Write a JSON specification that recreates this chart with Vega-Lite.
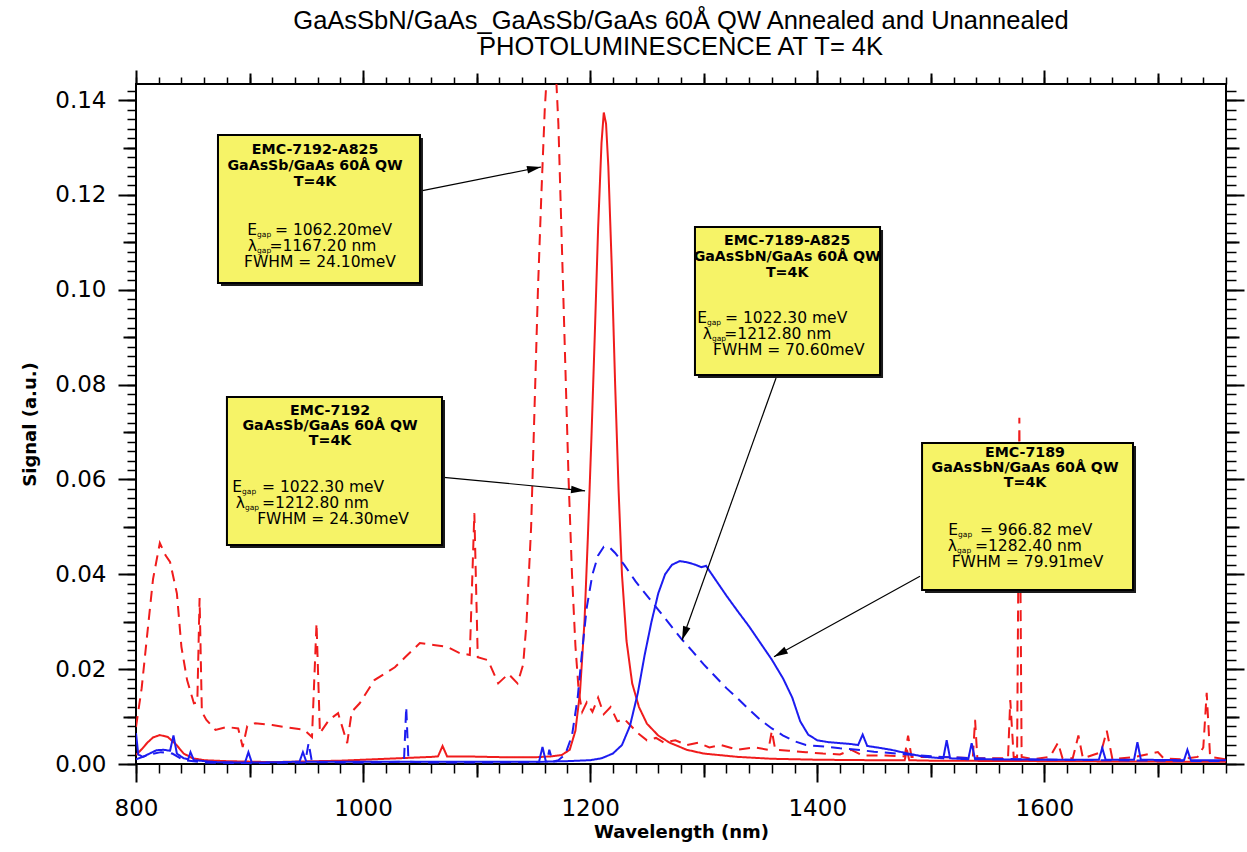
{
  "$schema": "https://vega.github.io/schema/vega-lite/v6.json",
  "width": 1090,
  "height": 680,
  "autosize": {"type": "none"},
  "padding": {"left": 136, "top": 84, "right": 21, "bottom": 88},
  "background": "white",
  "config": {
    "view": {"stroke": "black", "strokeWidth": 2},
    "font": "DejaVu Sans",
    "axis": {"grid": false, "domain": false, "tickColor": "black", "labelColor": "black", "titleColor": "black", "labelFlush": false, "labelOverlap": false}
  },
  "title": {
    "text": ["GaAsSbN/GaAs_GaAsSb/GaAs 60Å QW Annealed and Unannealed", "PHOTOLUMINESCENCE AT T= 4K"],
    "font": "Liberation Sans",
    "fontSize": 25.5,
    "fontWeight": "normal",
    "lineHeight": 26,
    "anchor": "middle",
    "frame": "group",
    "offset": 9,
    "color": "black"
  },
  "datasets": {
    "pl": [
      {"s":"EMC-7192","w":800,"v":0.0019},{"s":"EMC-7192","w":805,"v":0.0031},{"s":"EMC-7192","w":810,"v":0.0045},{"s":"EMC-7192","w":815,"v":0.0056},{"s":"EMC-7192","w":821,"v":0.0061},{"s":"EMC-7192","w":828,"v":0.0057},{"s":"EMC-7192","w":835,"v":0.0042},{"s":"EMC-7192","w":842,"v":0.0022},{"s":"EMC-7192","w":850,"v":0.0012},{"s":"EMC-7192","w":860,"v":0.0008},{"s":"EMC-7192","w":880,"v":0.0006},{"s":"EMC-7192","w":900,"v":0.0005},{"s":"EMC-7192","w":920,"v":0.0004},{"s":"EMC-7192","w":940,"v":0.0005},{"s":"EMC-7192","w":960,"v":0.0006},{"s":"EMC-7192","w":980,"v":0.0007},{"s":"EMC-7192","w":1000,"v":0.0009},{"s":"EMC-7192","w":1020,"v":0.0011},{"s":"EMC-7192","w":1040,"v":0.0013},{"s":"EMC-7192","w":1060,"v":0.0015},{"s":"EMC-7192","w":1066,"v":0.0016},{"s":"EMC-7192","w":1070,"v":0.0038},{"s":"EMC-7192","w":1074,"v":0.0016},{"s":"EMC-7192","w":1090,"v":0.0016},{"s":"EMC-7192","w":1110,"v":0.0015},{"s":"EMC-7192","w":1130,"v":0.0014},{"s":"EMC-7192","w":1150,"v":0.0014},{"s":"EMC-7192","w":1165,"v":0.0016},{"s":"EMC-7192","w":1175,"v":0.0019},{"s":"EMC-7192","w":1182,"v":0.003},{"s":"EMC-7192","w":1187,"v":0.007},{"s":"EMC-7192","w":1191,"v":0.015},{"s":"EMC-7192","w":1195,"v":0.03},{"s":"EMC-7192","w":1198,"v":0.048},{"s":"EMC-7192","w":1201,"v":0.068},{"s":"EMC-7192","w":1204,"v":0.09},{"s":"EMC-7192","w":1207,"v":0.113},{"s":"EMC-7192","w":1210,"v":0.131},{"s":"EMC-7192","w":1212,"v":0.1374},{"s":"EMC-7192","w":1214,"v":0.135},{"s":"EMC-7192","w":1216,"v":0.126},{"s":"EMC-7192","w":1219,"v":0.105},{"s":"EMC-7192","w":1222,"v":0.08},{"s":"EMC-7192","w":1225,"v":0.058},{"s":"EMC-7192","w":1228,"v":0.04},{"s":"EMC-7192","w":1232,"v":0.026},{"s":"EMC-7192","w":1237,"v":0.017},{"s":"EMC-7192","w":1243,"v":0.012},{"s":"EMC-7192","w":1250,"v":0.0085},{"s":"EMC-7192","w":1260,"v":0.006},{"s":"EMC-7192","w":1270,"v":0.0045},{"s":"EMC-7192","w":1285,"v":0.003},{"s":"EMC-7192","w":1300,"v":0.0022},{"s":"EMC-7192","w":1330,"v":0.0015},{"s":"EMC-7192","w":1360,"v":0.0011},{"s":"EMC-7192","w":1400,"v":0.0009},{"s":"EMC-7192","w":1450,"v":0.0008},{"s":"EMC-7192","w":1477,"v":0.0008},{"s":"EMC-7192","w":1479,"v":0.003},{"s":"EMC-7192","w":1481,"v":0.0008},{"s":"EMC-7192","w":1500,"v":0.0007},{"s":"EMC-7192","w":1600,"v":0.0006},{"s":"EMC-7192","w":1700,"v":0.0005},{"s":"EMC-7192","w":1760,"v":0.0005},

      {"s":"EMC-7192-A825","w":800,"v":0.0078},{"s":"EMC-7192-A825","w":805,"v":0.016},{"s":"EMC-7192-A825","w":810,"v":0.0276},{"s":"EMC-7192-A825","w":815,"v":0.039},{"s":"EMC-7192-A825","w":821,"v":0.0466},{"s":"EMC-7192-A825","w":826,"v":0.044},{"s":"EMC-7192-A825","w":830,"v":0.0426},{"s":"EMC-7192-A825","w":836,"v":0.036},{"s":"EMC-7192-A825","w":840,"v":0.0247},{"s":"EMC-7192-A825","w":845,"v":0.0177},{"s":"EMC-7192-A825","w":851,"v":0.0128},{"s":"EMC-7192-A825","w":854,"v":0.013},{"s":"EMC-7192-A825","w":856,"v":0.035},{"s":"EMC-7192-A825","w":858,"v":0.011},{"s":"EMC-7192-A825","w":862,"v":0.0093},{"s":"EMC-7192-A825","w":870,"v":0.0072},{"s":"EMC-7192-A825","w":880,"v":0.0078},{"s":"EMC-7192-A825","w":890,"v":0.0075},{"s":"EMC-7192-A825","w":894,"v":0.0036},{"s":"EMC-7192-A825","w":898,"v":0.008},{"s":"EMC-7192-A825","w":905,"v":0.0086},{"s":"EMC-7192-A825","w":920,"v":0.0082},{"s":"EMC-7192-A825","w":937,"v":0.0076},{"s":"EMC-7192-A825","w":948,"v":0.0072},{"s":"EMC-7192-A825","w":955,"v":0.0057},{"s":"EMC-7192-A825","w":959,"v":0.0297},{"s":"EMC-7192-A825","w":962,"v":0.0065},{"s":"EMC-7192-A825","w":970,"v":0.0093},{"s":"EMC-7192-A825","w":978,"v":0.0107},{"s":"EMC-7192-A825","w":986,"v":0.0044},{"s":"EMC-7192-A825","w":990,"v":0.011},{"s":"EMC-7192-A825","w":997,"v":0.0128},{"s":"EMC-7192-A825","w":1010,"v":0.0177},{"s":"EMC-7192-A825","w":1020,"v":0.0192},{"s":"EMC-7192-A825","w":1028,"v":0.0204},{"s":"EMC-7192-A825","w":1037,"v":0.0225},{"s":"EMC-7192-A825","w":1050,"v":0.0255},{"s":"EMC-7192-A825","w":1062,"v":0.0251},{"s":"EMC-7192-A825","w":1074,"v":0.0247},{"s":"EMC-7192-A825","w":1085,"v":0.0234},{"s":"EMC-7192-A825","w":1094,"v":0.023},{"s":"EMC-7192-A825","w":1098,"v":0.0529},{"s":"EMC-7192-A825","w":1101,"v":0.0225},{"s":"EMC-7192-A825","w":1110,"v":0.0219},{"s":"EMC-7192-A825","w":1119,"v":0.017},{"s":"EMC-7192-A825","w":1128,"v":0.019},{"s":"EMC-7192-A825","w":1136,"v":0.017},{"s":"EMC-7192-A825","w":1141,"v":0.021},{"s":"EMC-7192-A825","w":1144,"v":0.03},{"s":"EMC-7192-A825","w":1148,"v":0.05},{"s":"EMC-7192-A825","w":1151,"v":0.075},{"s":"EMC-7192-A825","w":1154,"v":0.1},{"s":"EMC-7192-A825","w":1157,"v":0.12},{"s":"EMC-7192-A825","w":1160,"v":0.138},{"s":"EMC-7192-A825","w":1163,"v":0.15},{"s":"EMC-7192-A825","w":1166,"v":0.155},{"s":"EMC-7192-A825","w":1169,"v":0.15},{"s":"EMC-7192-A825","w":1172,"v":0.135},{"s":"EMC-7192-A825","w":1175,"v":0.11},{"s":"EMC-7192-A825","w":1178,"v":0.085},{"s":"EMC-7192-A825","w":1181,"v":0.06},{"s":"EMC-7192-A825","w":1184,"v":0.04},{"s":"EMC-7192-A825","w":1187,"v":0.025},{"s":"EMC-7192-A825","w":1190,"v":0.015},{"s":"EMC-7192-A825","w":1193,"v":0.011},{"s":"EMC-7192-A825","w":1197,"v":0.013},{"s":"EMC-7192-A825","w":1202,"v":0.011},{"s":"EMC-7192-A825","w":1207,"v":0.014},{"s":"EMC-7192-A825","w":1212,"v":0.0105},{"s":"EMC-7192-A825","w":1218,"v":0.012},{"s":"EMC-7192-A825","w":1224,"v":0.009},{"s":"EMC-7192-A825","w":1230,"v":0.0095},{"s":"EMC-7192-A825","w":1236,"v":0.008},{"s":"EMC-7192-A825","w":1242,"v":0.0065},{"s":"EMC-7192-A825","w":1250,"v":0.005},{"s":"EMC-7192-A825","w":1258,"v":0.0055},{"s":"EMC-7192-A825","w":1265,"v":0.0045},{"s":"EMC-7192-A825","w":1275,"v":0.005},{"s":"EMC-7192-A825","w":1285,"v":0.004},{"s":"EMC-7192-A825","w":1295,"v":0.0045},{"s":"EMC-7192-A825","w":1305,"v":0.0035},{"s":"EMC-7192-A825","w":1315,"v":0.004},{"s":"EMC-7192-A825","w":1330,"v":0.003},{"s":"EMC-7192-A825","w":1345,"v":0.0035},{"s":"EMC-7192-A825","w":1357,"v":0.003},{"s":"EMC-7192-A825","w":1360,"v":0.007},{"s":"EMC-7192-A825","w":1363,"v":0.003},{"s":"EMC-7192-A825","w":1375,"v":0.0028},{"s":"EMC-7192-A825","w":1390,"v":0.0025},{"s":"EMC-7192-A825","w":1405,"v":0.0022},{"s":"EMC-7192-A825","w":1420,"v":0.002},{"s":"EMC-7192-A825","w":1430,"v":0.003},{"s":"EMC-7192-A825","w":1440,"v":0.0018},{"s":"EMC-7192-A825","w":1460,"v":0.0018},{"s":"EMC-7192-A825","w":1477,"v":0.0016},{"s":"EMC-7192-A825","w":1480,"v":0.006},{"s":"EMC-7192-A825","w":1483,"v":0.0015},{"s":"EMC-7192-A825","w":1500,"v":0.0015},{"s":"EMC-7192-A825","w":1520,"v":0.0014},{"s":"EMC-7192-A825","w":1537,"v":0.0012},{"s":"EMC-7192-A825","w":1539,"v":0.0093},{"s":"EMC-7192-A825","w":1541,"v":0.0012},{"s":"EMC-7192-A825","w":1555,"v":0.0012},{"s":"EMC-7192-A825","w":1568,"v":0.0012},{"s":"EMC-7192-A825","w":1570,"v":0.0135},{"s":"EMC-7192-A825","w":1573,"v":0.0015},{"s":"EMC-7192-A825","w":1576,"v":0.0015},{"s":"EMC-7192-A825","w":1578,"v":0.073},{"s":"EMC-7192-A825","w":1580,"v":0.0015},{"s":"EMC-7192-A825","w":1590,"v":0.001},{"s":"EMC-7192-A825","w":1605,"v":0.0015},{"s":"EMC-7192-A825","w":1612,"v":0.0045},{"s":"EMC-7192-A825","w":1616,"v":0.0012},{"s":"EMC-7192-A825","w":1625,"v":0.0012},{"s":"EMC-7192-A825","w":1630,"v":0.006},{"s":"EMC-7192-A825","w":1634,"v":0.0012},{"s":"EMC-7192-A825","w":1650,"v":0.0025},{"s":"EMC-7192-A825","w":1655,"v":0.007},{"s":"EMC-7192-A825","w":1660,"v":0.001},{"s":"EMC-7192-A825","w":1680,"v":0.0015},{"s":"EMC-7192-A825","w":1700,"v":0.0025},{"s":"EMC-7192-A825","w":1705,"v":0.0012},{"s":"EMC-7192-A825","w":1720,"v":0.001},{"s":"EMC-7192-A825","w":1735,"v":0.0015},{"s":"EMC-7192-A825","w":1740,"v":0.0035},{"s":"EMC-7192-A825","w":1743,"v":0.015},{"s":"EMC-7192-A825","w":1746,"v":0.0015},{"s":"EMC-7192-A825","w":1760,"v":0.001},

      {"s":"EMC-7189","w":800,"v":0.0065},{"s":"EMC-7189","w":802,"v":0.002},{"s":"EMC-7189","w":806,"v":0.0015},{"s":"EMC-7189","w":812,"v":0.0022},{"s":"EMC-7189","w":818,"v":0.0029},{"s":"EMC-7189","w":824,"v":0.003},{"s":"EMC-7189","w":830,"v":0.0028},{"s":"EMC-7189","w":833,"v":0.006},{"s":"EMC-7189","w":836,"v":0.0022},{"s":"EMC-7189","w":842,"v":0.0012},{"s":"EMC-7189","w":846,"v":0.001},{"s":"EMC-7189","w":848,"v":0.0025},{"s":"EMC-7189","w":851,"v":0.0008},{"s":"EMC-7189","w":870,"v":0.0004},{"s":"EMC-7189","w":896,"v":0.0003},{"s":"EMC-7189","w":899,"v":0.0025},{"s":"EMC-7189","w":902,"v":0.0003},{"s":"EMC-7189","w":930,"v":0.0004},{"s":"EMC-7189","w":944,"v":0.0005},{"s":"EMC-7189","w":947,"v":0.0025},{"s":"EMC-7189","w":950,"v":0.0005},{"s":"EMC-7189","w":1000,"v":0.0005},{"s":"EMC-7189","w":1050,"v":0.0005},{"s":"EMC-7189","w":1100,"v":0.0005},{"s":"EMC-7189","w":1155,"v":0.0005},{"s":"EMC-7189","w":1158,"v":0.0036},{"s":"EMC-7189","w":1161,"v":0.0005},{"s":"EMC-7189","w":1180,"v":0.0006},{"s":"EMC-7189","w":1200,"v":0.0008},{"s":"EMC-7189","w":1210,"v":0.0012},{"s":"EMC-7189","w":1220,"v":0.0022},{"s":"EMC-7189","w":1228,"v":0.004},{"s":"EMC-7189","w":1235,"v":0.008},{"s":"EMC-7189","w":1242,"v":0.015},{"s":"EMC-7189","w":1248,"v":0.023},{"s":"EMC-7189","w":1254,"v":0.03},{"s":"EMC-7189","w":1260,"v":0.036},{"s":"EMC-7189","w":1266,"v":0.04},{"s":"EMC-7189","w":1272,"v":0.042},{"s":"EMC-7189","w":1279,"v":0.0428},{"s":"EMC-7189","w":1286,"v":0.0425},{"s":"EMC-7189","w":1293,"v":0.042},{"s":"EMC-7189","w":1298,"v":0.0415},{"s":"EMC-7189","w":1302,"v":0.0418},{"s":"EMC-7189","w":1310,"v":0.039},{"s":"EMC-7189","w":1320,"v":0.0355},{"s":"EMC-7189","w":1330,"v":0.0322},{"s":"EMC-7189","w":1340,"v":0.029},{"s":"EMC-7189","w":1350,"v":0.0255},{"s":"EMC-7189","w":1360,"v":0.022},{"s":"EMC-7189","w":1370,"v":0.018},{"s":"EMC-7189","w":1378,"v":0.014},{"s":"EMC-7189","w":1385,"v":0.009},{"s":"EMC-7189","w":1392,"v":0.0062},{"s":"EMC-7189","w":1400,"v":0.005},{"s":"EMC-7189","w":1410,"v":0.0046},{"s":"EMC-7189","w":1420,"v":0.0044},{"s":"EMC-7189","w":1430,"v":0.0042},{"s":"EMC-7189","w":1436,"v":0.004},{"s":"EMC-7189","w":1440,"v":0.0062},{"s":"EMC-7189","w":1444,"v":0.0038},{"s":"EMC-7189","w":1455,"v":0.0034},{"s":"EMC-7189","w":1465,"v":0.003},{"s":"EMC-7189","w":1480,"v":0.0022},{"s":"EMC-7189","w":1495,"v":0.0015},{"s":"EMC-7189","w":1511,"v":0.0012},{"s":"EMC-7189","w":1514,"v":0.005},{"s":"EMC-7189","w":1517,"v":0.0012},{"s":"EMC-7189","w":1533,"v":0.001},{"s":"EMC-7189","w":1536,"v":0.0044},{"s":"EMC-7189","w":1539,"v":0.001},{"s":"EMC-7189","w":1600,"v":0.0009},{"s":"EMC-7189","w":1648,"v":0.0009},{"s":"EMC-7189","w":1651,"v":0.0034},{"s":"EMC-7189","w":1654,"v":0.0009},{"s":"EMC-7189","w":1679,"v":0.0009},{"s":"EMC-7189","w":1682,"v":0.0046},{"s":"EMC-7189","w":1685,"v":0.0009},{"s":"EMC-7189","w":1723,"v":0.0008},{"s":"EMC-7189","w":1726,"v":0.003},{"s":"EMC-7189","w":1729,"v":0.0008},{"s":"EMC-7189","w":1760,"v":0.0008},

      {"s":"EMC-7189-A825","w":800,"v":0.001},{"s":"EMC-7189-A825","w":812,"v":0.002},{"s":"EMC-7189-A825","w":822,"v":0.0025},{"s":"EMC-7189-A825","w":832,"v":0.0022},{"s":"EMC-7189-A825","w":842,"v":0.0008},{"s":"EMC-7189-A825","w":860,"v":0.0003},{"s":"EMC-7189-A825","w":900,"v":0.0002},{"s":"EMC-7189-A825","w":949,"v":0.0003},{"s":"EMC-7189-A825","w":952,"v":0.0044},{"s":"EMC-7189-A825","w":955,"v":0.0004},{"s":"EMC-7189-A825","w":1000,"v":0.0003},{"s":"EMC-7189-A825","w":1036,"v":0.0005},{"s":"EMC-7189-A825","w":1038,"v":0.012},{"s":"EMC-7189-A825","w":1040,"v":0.0005},{"s":"EMC-7189-A825","w":1060,"v":0.0003},{"s":"EMC-7189-A825","w":1100,"v":0.0003},{"s":"EMC-7189-A825","w":1150,"v":0.0004},{"s":"EMC-7189-A825","w":1162,"v":0.0005},{"s":"EMC-7189-A825","w":1164,"v":0.003},{"s":"EMC-7189-A825","w":1167,"v":0.0005},{"s":"EMC-7189-A825","w":1172,"v":0.0008},{"s":"EMC-7189-A825","w":1178,"v":0.002},{"s":"EMC-7189-A825","w":1184,"v":0.006},{"s":"EMC-7189-A825","w":1189,"v":0.014},{"s":"EMC-7189-A825","w":1193,"v":0.024},{"s":"EMC-7189-A825","w":1197,"v":0.033},{"s":"EMC-7189-A825","w":1202,"v":0.04},{"s":"EMC-7189-A825","w":1207,"v":0.044},{"s":"EMC-7189-A825","w":1212,"v":0.0458},{"s":"EMC-7189-A825","w":1217,"v":0.0457},{"s":"EMC-7189-A825","w":1222,"v":0.0445},{"s":"EMC-7189-A825","w":1230,"v":0.042},{"s":"EMC-7189-A825","w":1240,"v":0.0385},{"s":"EMC-7189-A825","w":1250,"v":0.0355},{"s":"EMC-7189-A825","w":1260,"v":0.0325},{"s":"EMC-7189-A825","w":1270,"v":0.0295},{"s":"EMC-7189-A825","w":1280,"v":0.0265},{"s":"EMC-7189-A825","w":1290,"v":0.0238},{"s":"EMC-7189-A825","w":1300,"v":0.021},{"s":"EMC-7189-A825","w":1310,"v":0.0185},{"s":"EMC-7189-A825","w":1320,"v":0.016},{"s":"EMC-7189-A825","w":1330,"v":0.0138},{"s":"EMC-7189-A825","w":1340,"v":0.0115},{"s":"EMC-7189-A825","w":1350,"v":0.0093},{"s":"EMC-7189-A825","w":1360,"v":0.0075},{"s":"EMC-7189-A825","w":1370,"v":0.006},{"s":"EMC-7189-A825","w":1380,"v":0.0048},{"s":"EMC-7189-A825","w":1390,"v":0.004},{"s":"EMC-7189-A825","w":1400,"v":0.0038},{"s":"EMC-7189-A825","w":1410,"v":0.0036},{"s":"EMC-7189-A825","w":1420,"v":0.0033},{"s":"EMC-7189-A825","w":1435,"v":0.003},{"s":"EMC-7189-A825","w":1450,"v":0.0026},{"s":"EMC-7189-A825","w":1470,"v":0.0022},{"s":"EMC-7189-A825","w":1490,"v":0.0018},{"s":"EMC-7189-A825","w":1510,"v":0.0015},{"s":"EMC-7189-A825","w":1540,"v":0.0012},{"s":"EMC-7189-A825","w":1580,"v":0.001},{"s":"EMC-7189-A825","w":1650,"v":0.0008},{"s":"EMC-7189-A825","w":1760,"v":0.0006}
    ],
    "boxes": [
      {"id":"EMC-7192-A825","x1":872.2,"x2":1050.1,"y1":0.13264,"y2":0.10143},
      {"id":"EMC-7189-A825","x1":1292.3,"x2":1455.3,"y1":0.11324,"y2":0.08203},
      {"id":"EMC-7192","x1":880.1,"x2":1069.5,"y1":0.07739,"y2":0.04618},
      {"id":"EMC-7189","x1":1492.3,"x2":1678.1,"y1":0.06769,"y2":0.03669}
    ],
    "arrows": [
      {"id":"EMC-7192-A825","x1":1050.1,"y1":0.1208,"x2":1156.7,"y2":0.1259},
      {"id":"EMC-7192","x1":1068.6,"y1":0.0605,"x2":1195.5,"y2":0.0576},
      {"id":"EMC-7189-A825","x1":1363.7,"y1":0.0814,"x2":1280.9,"y2":0.0261},
      {"id":"EMC-7189","x1":1490.5,"y1":0.0396,"x2":1361.9,"y2":0.0226}
    ],
    "notes": [
      {"k":"head","x":957.7,"y":0.12948,"t":"EMC-7192-A825"},
      {"k":"head","x":957.7,"y":0.12611,"t":"GaAsSb/GaAs 60Å QW"},
      {"k":"head","x":957.7,"y":0.12273,"t":"T=4K"},
      {"k":"sym","x":906.6,"y":0.11261,"t":"E"},
      {"k":"sub","x":906.6,"y":0.11261,"t":"gap"},
      {"k":"rest","x":922.4,"y":0.11261,"t":"= 1062.20meV"},
      {"k":"sym","x":906.6,"y":0.10924,"t":"λ"},
      {"k":"sub","x":906.6,"y":0.10924,"t":"gap"},
      {"k":"rest","x":917.5,"y":0.10924,"t":"=1167.20 nm"},
      {"k":"body","x":962.0,"y":0.10586,"t":"FWHM = 24.10meV"},

      {"k":"head","x":1373.5,"y":0.11029,"t":"EMC-7189-A825"},
      {"k":"head","x":1373.5,"y":0.10692,"t":"GaAsSbN/GaAs 60Å QW"},
      {"k":"head","x":1373.5,"y":0.10354,"t":"T=4K"},
      {"k":"sym","x":1302.9,"y":0.09405,"t":"E"},
      {"k":"sub","x":1302.9,"y":0.09405,"t":"gap"},
      {"k":"rest","x":1318.8,"y":0.09405,"t":"= 1022.30 meV"},
      {"k":"sym","x":1307.3,"y":0.09068,"t":"λ"},
      {"k":"sub","x":1307.3,"y":0.09068,"t":"gap"},
      {"k":"rest","x":1318.2,"y":0.09068,"t":"=1212.80 nm"},
      {"k":"body","x":1375.0,"y":0.08731,"t":"FWHM = 70.60meV"},

      {"k":"head","x":970.9,"y":0.07444,"t":"EMC-7192"},
      {"k":"head","x":970.9,"y":0.07128,"t":"GaAsSb/GaAs 60Å QW"},
      {"k":"head","x":970.9,"y":0.06812,"t":"T=4K"},
      {"k":"sym","x":893.4,"y":0.05841,"t":"E"},
      {"k":"sub","x":893.4,"y":0.05841,"t":"gap"},
      {"k":"rest","x":911.0,"y":0.05841,"t":"= 1022.30 meV"},
      {"k":"sym","x":896.0,"y":0.05504,"t":"λ"},
      {"k":"sub","x":896.0,"y":0.05504,"t":"gap"},
      {"k":"rest","x":911.0,"y":0.05504,"t":"=1212.80 nm"},
      {"k":"body","x":973.5,"y":0.05167,"t":"FWHM = 24.30meV"},

      {"k":"head","x":1583.0,"y":0.06558,"t":"EMC-7189"},
      {"k":"head","x":1583.0,"y":0.06242,"t":"GaAsSbN/GaAs 60Å QW"},
      {"k":"head","x":1583.0,"y":0.05926,"t":"T=4K"},
      {"k":"sym","x":1524.0,"y":0.04935,"t":"E"},
      {"k":"sub","x":1524.0,"y":0.04935,"t":"gap"},
      {"k":"rest","x":1543.3,"y":0.04935,"t":"= 966.82 meV"},
      {"k":"sym","x":1523.1,"y":0.04597,"t":"λ"},
      {"k":"sub","x":1523.1,"y":0.04597,"t":"gap"},
      {"k":"rest","x":1538.9,"y":0.04597,"t":"=1282.40 nm"},
      {"k":"body","x":1585.2,"y":0.0426,"t":"FWHM = 79.91meV"}
    ]
  },
  "layer": [
    {
      "data": {"name": "pl"},
      "mark": {"type": "line", "clip": true, "strokeWidth": 2},
      "encoding": {
        "x": {
          "field": "w", "type": "quantitative",
          "scale": {"domain": [800, 1760], "nice": false, "zero": false},
          "axis": {"orient": "bottom", "values": [800, 1000, 1200, 1400, 1600], "format": "d", "tickSize": 18, "tickWidth": 2, "labelFont": "DejaVu Sans", "labelFontSize": 23, "labelPadding": 15, "title": "Wavelength (nm)", "titleFont": "DejaVu Sans", "titleFontSize": 18, "titleFontWeight": "bold", "titlePadding": 3}
        },
        "y": {
          "field": "v", "type": "quantitative",
          "scale": {"domain": [0, 0.1434], "nice": false, "zero": true},
          "axis": {"orient": "left", "values": [0, 0.02, 0.04, 0.06, 0.08, 0.1, 0.12, 0.14], "format": ".2f", "tickSize": 18, "tickWidth": 2, "labelFont": "DejaVu Sans", "labelFontSize": 23, "labelPadding": 12, "title": "Signal (a.u.)", "titleFont": "DejaVu Sans", "titleFontSize": 18, "titleFontWeight": "bold", "titlePadding": 15}
        },
        "color": {"field": "s", "type": "nominal", "legend": null, "scale": {"domain": ["EMC-7189-A825", "EMC-7189", "EMC-7192-A825", "EMC-7192"], "range": ["#1c1cf0", "#1c1cf0", "#f01c1c", "#f01c1c"]}},
        "strokeDash": {"field": "s", "type": "nominal", "legend": null, "scale": {"domain": ["EMC-7189-A825", "EMC-7189", "EMC-7192-A825", "EMC-7192"], "range": [[11, 7], [1, 0], [11, 7], [1, 0]]}}
      }
    },
    {
      "data": {"name": "arrows"},
      "mark": {"type": "rule", "color": "black", "strokeWidth": 1.2},
      "encoding": {
        "x": {"field": "x1", "type": "quantitative", "axis": {"orient": "bottom", "values": [900, 1100, 1300, 1500, 1700], "tickSize": 13, "tickWidth": 2, "labels": false, "title": null}},
        "y": {"field": "y1", "type": "quantitative", "axis": {"orient": "left", "values": [0.01, 0.03, 0.05, 0.07, 0.09, 0.11, 0.13], "tickSize": 13, "tickWidth": 2, "labels": false, "title": null}},
        "x2": {"field": "x2"},
        "y2": {"field": "y2"}
      }
    },
    {
      "data": {"name": "arrows"},
      "transform": [
        {"calculate": "atan2((datum.x2 - datum.x1) * 1090 / 960, (datum.y2 - datum.y1) * 680 / 0.1434) * 180 / PI", "as": "ang"}
      ],
      "mark": {"type": "point", "shape": "M0,0L-0.55,2L0.55,2Z", "size": 196, "filled": true, "color": "black", "opacity": 1, "strokeWidth": 0},
      "encoding": {
        "x": {"field": "x2", "type": "quantitative", "axis": {"orient": "bottom", "values": [800,820,840,860,880,900,920,940,960,980,1000,1020,1040,1060,1080,1100,1120,1140,1160,1180,1200,1220,1240,1260,1280,1300,1320,1340,1360,1380,1400,1420,1440,1460,1480,1500,1520,1540,1560,1580,1600,1620,1640,1660,1680,1700,1720,1740,1760], "tickSize": 9, "tickWidth": 1.5, "labels": false, "title": null}},
        "y": {"field": "y2", "type": "quantitative", "axis": {"orient": "left", "values": [0,0.002,0.004,0.006,0.008,0.01,0.012,0.014,0.016,0.018,0.02,0.022,0.024,0.026,0.028,0.03,0.032,0.034,0.036,0.038,0.04,0.042,0.044,0.046,0.048,0.05,0.052,0.054,0.056,0.058,0.06,0.062,0.064,0.066,0.068,0.07,0.072,0.074,0.076,0.078,0.08,0.082,0.084,0.086,0.088,0.09,0.092,0.094,0.096,0.098,0.1,0.102,0.104,0.106,0.108,0.11,0.112,0.114,0.116,0.118,0.12,0.122,0.124,0.126,0.128,0.13,0.132,0.134,0.136,0.138,0.14,0.142], "tickSize": 9, "tickWidth": 1.5, "labels": false, "title": null}},
        "angle": {"field": "ang", "type": "quantitative", "scale": null}
      }
    },
    {
      "data": {"name": "boxes"},
      "mark": {"type": "rect", "fill": "#1a1a1a", "xOffset": 3, "x2Offset": 3, "yOffset": 3, "y2Offset": 3},
      "encoding": {
        "x": {"field": "x1", "type": "quantitative", "axis": {"orient": "top", "values": [800, 1000, 1200, 1400, 1600], "tickSize": 14, "tickWidth": 2, "labels": false, "title": null}},
        "x2": {"field": "x2"},
        "y": {"field": "y1", "type": "quantitative", "axis": {"orient": "right", "values": [0, 0.02, 0.04, 0.06, 0.08, 0.1, 0.12, 0.14], "tickSize": 18, "tickWidth": 2, "labels": false, "title": null}},
        "y2": {"field": "y2"}
      }
    },
    {
      "data": {"name": "boxes"},
      "mark": {"type": "rect", "fill": "#f6f367", "stroke": "black", "strokeWidth": 2},
      "encoding": {
        "x": {"field": "x1", "type": "quantitative", "axis": {"orient": "top", "values": [900, 1100, 1300, 1500, 1700], "tickSize": 11, "tickWidth": 2, "labels": false, "title": null}},
        "x2": {"field": "x2"},
        "y": {"field": "y1", "type": "quantitative", "axis": {"orient": "right", "values": [0.01, 0.03, 0.05, 0.07, 0.09, 0.11, 0.13], "tickSize": 13, "tickWidth": 2, "labels": false, "title": null}},
        "y2": {"field": "y2"}
      }
    },
    {
      "data": {"name": "notes"},
      "transform": [{"filter": "datum.k === 'head'"}],
      "mark": {"type": "text", "font": "DejaVu Sans", "fontSize": 14.2, "fontWeight": "bold", "align": "center", "baseline": "middle", "color": "black"},
      "encoding": {
        "x": {"field": "x", "type": "quantitative", "axis": {"orient": "top", "values": [800,820,840,860,880,900,920,940,960,980,1000,1020,1040,1060,1080,1100,1120,1140,1160,1180,1200,1220,1240,1260,1280,1300,1320,1340,1360,1380,1400,1420,1440,1460,1480,1500,1520,1540,1560,1580,1600,1620,1640,1660,1680,1700,1720,1740,1760], "tickSize": 7, "tickWidth": 1.5, "labels": false, "title": null}},
        "y": {"field": "y", "type": "quantitative", "axis": {"orient": "right", "values": [0,0.002,0.004,0.006,0.008,0.01,0.012,0.014,0.016,0.018,0.02,0.022,0.024,0.026,0.028,0.03,0.032,0.034,0.036,0.038,0.04,0.042,0.044,0.046,0.048,0.05,0.052,0.054,0.056,0.058,0.06,0.062,0.064,0.066,0.068,0.07,0.072,0.074,0.076,0.078,0.08,0.082,0.084,0.086,0.088,0.09,0.092,0.094,0.096,0.098,0.1,0.102,0.104,0.106,0.108,0.11,0.112,0.114,0.116,0.118,0.12,0.122,0.124,0.126,0.128,0.13,0.132,0.134,0.136,0.138,0.14,0.142], "tickSize": 10, "tickWidth": 1.5, "labels": false, "title": null}},
        "text": {"field": "t"}
      }
    },
    {
      "data": {"name": "notes"},
      "transform": [{"filter": "datum.k === 'body'"}],
      "mark": {"type": "text", "font": "DejaVu Sans", "fontSize": 15.5, "align": "center", "baseline": "middle", "color": "black"},
      "encoding": {
        "x": {"field": "x", "type": "quantitative", "axis": null},
        "y": {"field": "y", "type": "quantitative", "axis": null},
        "text": {"field": "t"}
      }
    },
    {
      "data": {"name": "notes"},
      "transform": [{"filter": "datum.k === 'sym'"}],
      "mark": {"type": "text", "font": "DejaVu Sans", "fontSize": 15.5, "align": "right", "baseline": "middle", "color": "black"},
      "encoding": {
        "x": {"field": "x", "type": "quantitative", "axis": null},
        "y": {"field": "y", "type": "quantitative", "axis": null},
        "text": {"field": "t"}
      }
    },
    {
      "data": {"name": "notes"},
      "transform": [{"filter": "datum.k === 'sub'"}],
      "mark": {"type": "text", "font": "DejaVu Sans", "fontSize": 7.5, "align": "left", "baseline": "middle", "dy": 5, "color": "black"},
      "encoding": {
        "x": {"field": "x", "type": "quantitative", "axis": null},
        "y": {"field": "y", "type": "quantitative", "axis": null},
        "text": {"field": "t"}
      }
    },
    {
      "data": {"name": "notes"},
      "transform": [{"filter": "datum.k === 'rest'"}],
      "mark": {"type": "text", "font": "DejaVu Sans", "fontSize": 15.5, "align": "left", "baseline": "middle", "color": "black"},
      "encoding": {
        "x": {"field": "x", "type": "quantitative", "axis": null},
        "y": {"field": "y", "type": "quantitative", "axis": null},
        "text": {"field": "t"}
      }
    }
  ],
  "resolve": {"axis": {"x": "independent", "y": "independent"}}
}
